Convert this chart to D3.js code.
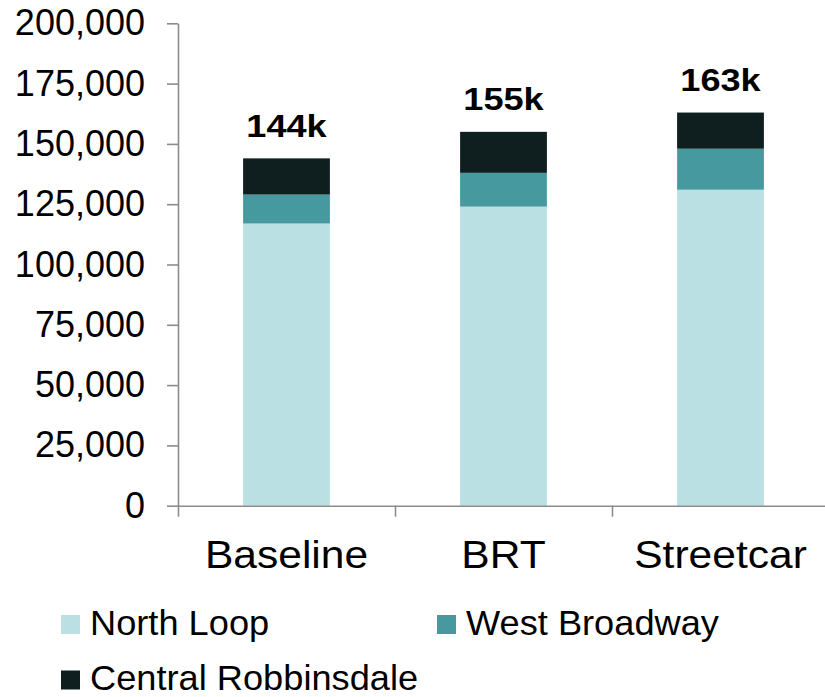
<!DOCTYPE html>
<html>
<head>
<meta charset="utf-8">
<script src="https://cdn.jsdelivr.net/npm/d3@7"></script>
<style>
  body { margin: 0; background: #fff; }
  svg { display: block; font-family: Arial, "Liberation Sans", sans-serif; }
</style>
</head>
<body>
<div id="vis"></div>
<script>
// categories and series
const categories = ["Baseline", "BRT", "Streetcar"];
const seriesNames = ["North Loop", "West Broadway", "Central Robbinsdale"];
const northLoop = [117000, 124000, 131000];
const westBroadway = [12000, 14000, 17000];
const centralRobbinsdale = [15000, 17000, 15000];
const totalLabels = ["144k", "155k", "163k"];
const yTicks = [0, 25000, 50000, 75000, 100000, 125000, 150000, 175000, 200000];

const colors = ["#bae0e3", "#46999f", "#0f1f20"];

const width = 825, height = 697;
const margin = { top: 23.3, left: 178 };

const svg = d3.select("#vis").append("svg")
  .attr("width", width)
  .attr("height", height);

// data table for the stack
const table = categories.map((c, i) => ({
  category: c,
  "North Loop": northLoop[i],
  "West Broadway": westBroadway[i],
  "Central Robbinsdale": centralRobbinsdale[i],
  label: totalLabels[i]
}));

const stacked = d3.stack().keys(seriesNames)(table);

// scales
const y = d3.scaleLinear()
  .domain([0, 200000])
  .range([505.7, margin.top]);

const x = d3.scaleBand()
  .domain(categories)
  .range([margin.left, 829])
  .paddingInner(0.6)
  .paddingOuter(0.3);

// category boundaries for the x axis ticks
const xEdge = d3.scaleLinear()
  .domain([0, categories.length])
  .range([margin.left, 829]);

const color = d3.scaleOrdinal().domain(seriesNames).range(colors);

// the source text is a bit wider than Arial at the same height
const stretch = (px, py, s) => `translate(${px},${py}) scale(${s},1)`;

// bars
svg.append("g")
  .selectAll("g")
  .data(stacked)
  .join("g")
  .attr("fill", d => color(d.key))
  .selectAll("rect")
  .data(d => d)
  .join("rect")
  .attr("x", d => x(d.data.category))
  .attr("width", x.bandwidth())
  .attr("y", d => y(d[1]))
  .attr("height", d => y(d[0]) - y(d[1]));

// total labels
const topLayer = stacked[stacked.length - 1];
svg.append("g")
  .selectAll("text")
  .data(topLayer)
  .join("text")
  .attr("transform", d => stretch(x(d.data.category) + x.bandwidth() / 2, y(d[1]) - 21.5, 1.13))
  .attr("text-anchor", "middle")
  .attr("font-size", 32)
  .attr("font-weight", "bold")
  .attr("fill", "#000")
  .text(d => d.data.label);

// y axis
const yAxis = svg.append("g")
  .attr("transform", `translate(${margin.left},0)`)
  .call(d3.axisLeft(y)
    .tickValues(yTicks)
    .tickFormat(d3.format(","))
    .tickSize(11)
    .tickSizeOuter(0)
    .tickPadding(22));

yAxis.selectAll("text")
  .attr("font-size", 36)
  .attr("fill", "#000")
  .attr("font-family", "Arial, 'Liberation Sans', sans-serif");

// x axis
svg.append("g")
  .attr("transform", `translate(0,${y(0)})`)
  .call(d3.axisBottom(xEdge)
    .tickValues(d3.range(categories.length + 1))
    .tickFormat("")
    .tickSize(11)
    .tickSizeOuter(0));

svg.selectAll(".domain, .tick line")
  .attr("stroke", "#8c8c8c")
  .attr("stroke-width", 1.6);

// category labels
svg.append("g")
  .selectAll("text")
  .data(categories)
  .join("text")
  .attr("transform", d => stretch(x(d) + x.bandwidth() / 2, 567.5, 1.12))
  .attr("text-anchor", "middle")
  .attr("font-size", 38)
  .attr("fill", "#000")
  .text(d => d);

// legend
const legendPos = [[61, 615], [437, 615], [61, 670.5]];
const legend = svg.append("g")
  .selectAll("g")
  .data(seriesNames)
  .join("g")
  .attr("transform", (d, i) => `translate(${legendPos[i][0]},${legendPos[i][1]})`);

legend.append("rect")
  .attr("width", 19)
  .attr("height", 19)
  .attr("fill", d => color(d));

legend.append("text")
  .attr("transform", stretch(29, 19.5, 1.035))
  .attr("font-size", 35)
  .attr("fill", "#000")
  .text(d => d);
</script>
</body>
</html>
